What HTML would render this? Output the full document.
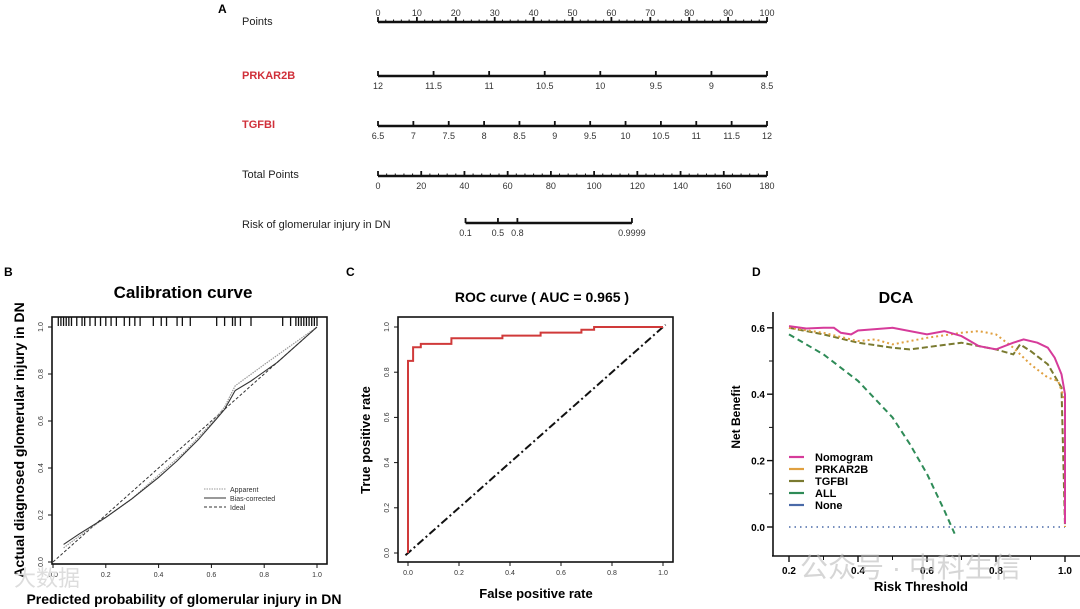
<!DOCTYPE html>
<html><head><meta charset="utf-8"><style>
html,body{margin:0;padding:0;background:#fff;}
svg{display:block;font-family:"Liberation Sans","Noto Sans CJK SC",sans-serif;}
</style></head><body>
<svg id="fig" width="1080" height="609" viewBox="0 0 1080 609" xmlns="http://www.w3.org/2000/svg">
<g id="nomo"></g>
<g id="cal"></g>
<g id="roc"></g>
<g id="dca"></g>
</svg>
<script>
// ---------- data ----------
const pointsTicks=[0,10,20,30,40,50,60,70,80,90,100];
const prkTicks=[12,11.5,11,10.5,10,9.5,9,8.5];
const tgfTicks=[6.5,7,7.5,8,8.5,9,9.5,10,10.5,11,11.5,12];
const totalTicks=[0,20,40,60,80,100,120,140,160,180];
const riskLabels=["0.1","0.5","0.8","0.9999"];
const riskTotals=[40.5,55.5,64.5,117.5];

const calApparentX=[0.04,0.1,0.2,0.3,0.4,0.5,0.6,0.65,0.69,0.8,0.9,1.0];
const calApparentY=[0.06,0.11,0.19,0.27,0.37,0.47,0.59,0.66,0.75,0.84,0.92,1.0];
const calBiasX=[0.04,0.1,0.2,0.3,0.4,0.47,0.55,0.62,0.65,0.69,0.75,0.85,1.0];
const calBiasY=[0.075,0.12,0.19,0.27,0.36,0.43,0.52,0.61,0.65,0.73,0.77,0.85,1.0];
const rugX=[0.02,0.03,0.04,0.05,0.06,0.07,0.09,0.11,0.12,0.14,0.16,0.18,0.2,0.22,0.24,0.27,0.29,0.31,0.33,0.38,0.41,0.43,0.47,0.49,0.52,0.62,0.65,0.68,0.69,0.71,0.75,0.87,0.9,0.92,0.93,0.94,0.95,0.96,0.97,0.98,0.99,1.0];
const axisTicks=[0,0.2,0.4,0.6,0.8,1.0];

const rocFpr=[0,0,0.02,0.02,0.05,0.05,0.17,0.17,0.37,0.37,0.52,0.52,0.68,0.68,0.73,0.73,1];
const rocTpr=[0,0.85,0.85,0.91,0.91,0.925,0.925,0.95,0.95,0.962,0.962,0.975,0.975,0.988,0.988,1,1];

const dcaNomoT=[0.2,0.25,0.3,0.33,0.35,0.38,0.4,0.5,0.6,0.65,0.7,0.75,0.8,0.85,0.88,0.92,0.95,0.97,0.99,1.0,1.0];
const dcaNomoV=[0.605,0.598,0.6,0.6,0.585,0.58,0.592,0.6,0.58,0.59,0.575,0.545,0.535,0.555,0.565,0.555,0.54,0.51,0.46,0.4,0.01];
const dcaPrkT=[0.2,0.3,0.4,0.45,0.5,0.6,0.7,0.75,0.8,0.85,0.9,0.95,0.98,1.0,1.0];
const dcaPrkV=[0.6,0.585,0.56,0.565,0.55,0.57,0.585,0.59,0.58,0.54,0.49,0.45,0.44,0.38,0.0];
const dcaTgfT=[0.2,0.3,0.4,0.5,0.55,0.7,0.8,0.85,0.87,0.9,0.95,0.99,1.0];
const dcaTgfV=[0.6,0.58,0.555,0.54,0.535,0.555,0.535,0.52,0.55,0.53,0.49,0.42,0.0];
const dcaAllT=[0.2,0.3,0.4,0.5,0.55,0.6,0.65,0.68];
const dcaAllV=[0.58,0.52,0.44,0.33,0.25,0.16,0.05,-0.02];
const dcaNoneT=[0.2,1.0];
const dcaNoneV=[0,0];
const dcaTicksX=[0.2,0.4,0.6,0.8,1.0];
const dcaMinorX=[0.3,0.5,0.7,0.9];
const dcaTicksY=[0,0.2,0.4,0.6];
const dcaMinorY=[0.1,0.3,0.5];

// ---------- helpers ----------
const NS="http://www.w3.org/2000/svg";
function el(parent,tag,attrs,txt){const e=document.createElementNS(NS,tag);for(const k in attrs)e.setAttribute(k,attrs[k]);if(txt!==undefined)e.textContent=txt;parent.appendChild(e);return e;}
function pathFrom(xs,ys,sx,sy){return xs.map((x,i)=>(i?'L':'M')+sx(x).toFixed(1)+','+sy(ys[i]).toFixed(1)).join(' ');}

// ---------- nomogram ----------
const N=document.getElementById('nomo');
const nx0=378,nx1=767;
const ptsX=p=>nx0+(nx1-nx0)*p/100;
const totX=t=>nx0+(nx1-nx0)*t/180;
let t=el(N,'text',{x:218,y:13,'font-size':12,'font-weight':'bold'},'A');

const rowLabels=[["Points",25,"#222"],["PRKAR2B",79,"#d0303a"],["TGFBI",128,"#d0303a"],["Total Points",178,"#222"],["Risk of glomerular injury in DN",228,"#222"]];
rowLabels.forEach(r=>{const e=el(N,'text',{x:242,y:r[1],'font-size':11,fill:r[2],'font-weight':r[2]=="#222"?'normal':'bold'},r[0]);
});
function nomoAxis(y,x0,x1,ticks,minorStep,labels,labelAbove){
  el(N,'line',{x1:x0,y1:y,x2:x1,y2:y,stroke:'#111','stroke-width':2.4});
  if(minorStep){for(let x=x0;x<=x1+0.1;x+=minorStep)el(N,'line',{x1:x,y1:y,x2:x,y2:y-2.5,stroke:'#111','stroke-width':1});}
  ticks.forEach((tx,i)=>{el(N,'line',{x1:tx,y1:y,x2:tx,y2:y-5,stroke:'#111','stroke-width':1.8});
    const lab=el(N,'text',{x:tx,y:labelAbove?y-6:y+13,'font-size':9,'text-anchor':'middle',fill:'#333'},labels[i]);
    });
}
nomoAxis(22,nx0,nx1,pointsTicks.map(ptsX),(nx1-nx0)/50,pointsTicks.map(String),true);
nomoAxis(76,nx0,nx1,prkTicks.map((v,i)=>nx0+(nx1-nx0)*i/(prkTicks.length-1)),0,prkTicks.map(String),false);
nomoAxis(126,nx0,nx1,tgfTicks.map((v,i)=>nx0+(nx1-nx0)*i/(tgfTicks.length-1)),0,tgfTicks.map(String),false);
nomoAxis(176,nx0,nx1,totalTicks.map(totX),(nx1-nx0)/45,totalTicks.map(String),false);
nomoAxis(223,totX(riskTotals[0]),totX(riskTotals[3]),riskTotals.map(totX),0,riskLabels,false);

// ---------- generic framed panel ----------
function framedAxes(G,box,sx,sy,ticks){
  el(G,'rect',{x:box[0],y:box[1],width:box[2]-box[0],height:box[3]-box[1],fill:'none',stroke:'#111','stroke-width':1.6});
  ticks.forEach(v=>{
    el(G,'line',{x1:sx(v),y1:box[3],x2:sx(v),y2:box[3]+4,stroke:'#111'});
    const a=el(G,'text',{x:sx(v),y:box[3]+13,'font-size':7,'text-anchor':'middle',fill:'#333'},v.toFixed(1));
    
    el(G,'line',{x1:box[0],y1:sy(v),x2:box[0]-4,y2:sy(v),stroke:'#111'});
    const b=el(G,'text',{x:box[0]-9,y:sy(v),'font-size':7,'text-anchor':'middle',fill:'#333',transform:`rotate(-90 ${box[0]-9} ${sy(v)})`},v.toFixed(1));
    
  });
}

// ---------- calibration ----------
const C=document.getElementById('cal');
const cx=v=>53+264*v, cy=v=>562-235*v;
t=el(C,'text',{x:4,y:276,'font-size':12,'font-weight':'bold'},'B');
t=el(C,'text',{x:183,y:298,'font-size':17,'font-weight':'bold','text-anchor':'middle'},'Calibration curve');
framedAxes(C,[52,317,327,564],cx,cy,axisTicks);
rugX.forEach(v=>{const r=el(C,'line',{x1:cx(v),y1:317,x2:cx(v),y2:326,stroke:'#111','stroke-width':1.3});});
let p=el(C,'line',{x1:cx(0),y1:cy(0),x2:cx(1),y2:cy(1),stroke:'#333','stroke-width':1,'stroke-dasharray':'3,2'});
p=el(C,'path',{d:pathFrom(calApparentX,calApparentY,cx,cy),fill:'none',stroke:'#999','stroke-width':1.2,'stroke-dasharray':'1.5,1'});
p=el(C,'path',{d:pathFrom(calBiasX,calBiasY,cx,cy),fill:'none',stroke:'#333','stroke-width':1.1});
[["Apparent",'#999','1.5,1',492],["Bias-corrected",'#333','',501],["Ideal",'#333','3,2',510]].forEach(l=>{
  el(C,'line',{x1:204,y1:l[3]-3,x2:226,y2:l[3]-3,stroke:l[1],'stroke-width':1,'stroke-dasharray':l[2]});
  const e=el(C,'text',{x:230,y:l[3],'font-size':7,fill:'#333'},l[0]);});
t=el(C,'text',{x:24,y:440,'font-size':14,'font-weight':'bold','text-anchor':'middle',transform:'rotate(-90 24 440)'},'Actual diagnosed glomerular injury in DN');
t=el(C,'text',{x:14,y:586,'font-size':22,fill:'#ddd'},'大数据');
t=el(C,'text',{x:184,y:604,'font-size':14,'font-weight':'bold','text-anchor':'middle'},'Predicted probability of glomerular injury in DN');

// ---------- ROC ----------
const R=document.getElementById('roc');
const rx=v=>408+255*v, ry=v=>553-226*v;
t=el(R,'text',{x:346,y:276,'font-size':12,'font-weight':'bold'},'C');
t=el(R,'text',{x:542,y:302,'font-size':14,'font-weight':'bold','text-anchor':'middle'},'ROC curve ( AUC =  0.965 )');
framedAxes(R,[398,317,673,562],rx,ry,axisTicks);
p=el(R,'line',{x1:rx(-0.01),y1:ry(-0.01),x2:rx(1.01),y2:ry(1.01),stroke:'#111','stroke-width':2,'stroke-dasharray':'8,3,2,3'});
p=el(R,'path',{d:pathFrom(rocFpr,rocTpr,rx,ry),fill:'none',stroke:'#d03a3a','stroke-width':2});
t=el(R,'text',{x:370,y:440,'font-size':13,'font-weight':'bold','text-anchor':'middle',transform:'rotate(-90 370 440)'},'True positive rate');
t=el(R,'text',{x:536,y:598,'font-size':13,'font-weight':'bold','text-anchor':'middle'},'False positive rate');

// ---------- DCA ----------
const D=document.getElementById('dca');
const dx=v=>789+(1065-789)*(v-0.2)/0.8, dy=v=>527-332*v;
t=el(D,'text',{x:752,y:276,'font-size':12,'font-weight':'bold'},'D');
t=el(D,'text',{x:896,y:303,'font-size':16,'font-weight':'bold','text-anchor':'middle'},'DCA');
el(D,'line',{x1:773,y1:312,x2:773,y2:556,stroke:'#111','stroke-width':1.6});
el(D,'line',{x1:772,y1:556,x2:1080,y2:556,stroke:'#111','stroke-width':1.6});
dcaTicksY.forEach(v=>{el(D,'line',{x1:773,y1:dy(v),x2:767,y2:dy(v),stroke:'#111','stroke-width':1.4});
  const e=el(D,'text',{x:765,y:dy(v)+4,'font-size':10,'font-weight':'bold','text-anchor':'end'},v.toFixed(1));});
dcaMinorY.forEach(v=>{el(D,'line',{x1:773,y1:dy(v),x2:769,y2:dy(v),stroke:'#111'});});
dcaTicksX.forEach(v=>{el(D,'line',{x1:dx(v),y1:556,x2:dx(v),y2:562,stroke:'#111','stroke-width':1.4});
  const e=el(D,'text',{x:dx(v),y:574,'font-size':10,'font-weight':'bold','text-anchor':'middle'},v.toFixed(1));});
dcaMinorX.forEach(v=>{el(D,'line',{x1:dx(v),y1:556,x2:dx(v),y2:560,stroke:'#111'});});
p=el(D,'path',{d:pathFrom(dcaNoneT,dcaNoneV,dx,dy),fill:'none',stroke:'#4a6aa8','stroke-width':1.6,'stroke-dasharray':'1.5,4'});
p=el(D,'path',{d:pathFrom(dcaAllT,dcaAllV,dx,dy),fill:'none',stroke:'#2e8b57','stroke-width':2,'stroke-dasharray':'6,4'});
p=el(D,'path',{d:pathFrom(dcaTgfT,dcaTgfV,dx,dy),fill:'none',stroke:'#7a7a30','stroke-width':2,'stroke-dasharray':'6,3'});
p=el(D,'path',{d:pathFrom(dcaPrkT,dcaPrkV,dx,dy),fill:'none',stroke:'#e0a040','stroke-width':2,'stroke-dasharray':'2,3'});
p=el(D,'path',{d:pathFrom(dcaNomoT,dcaNomoV,dx,dy),fill:'none',stroke:'#d63b9a','stroke-width':2});
[["Nomogram","#d63b9a",461],["PRKAR2B","#e0a040",473],["TGFBI","#7a7a30",485],["ALL","#2e8b57",497],["None","#4a6aa8",509]].forEach(l=>{
  el(D,'line',{x1:789,y1:l[2]-4,x2:804,y2:l[2]-4,stroke:l[1],'stroke-width':2.2});
  const e=el(D,'text',{x:815,y:l[2],'font-size':11,'font-weight':'bold'},l[0]);});
t=el(D,'text',{x:740,y:417,'font-size':12,'font-weight':'bold','text-anchor':'middle',transform:'rotate(-90 740 417)'},'Net Benefit');
t=el(D,'text',{x:921,y:591,'font-size':13,'font-weight':'bold','text-anchor':'middle'},'Risk Threshold');
t=el(D,'text',{x:800,y:577,'font-size':28,fill:'#bbb','fill-opacity':0.6},'公众号 · 中科生信');
</script>
</body></html>
